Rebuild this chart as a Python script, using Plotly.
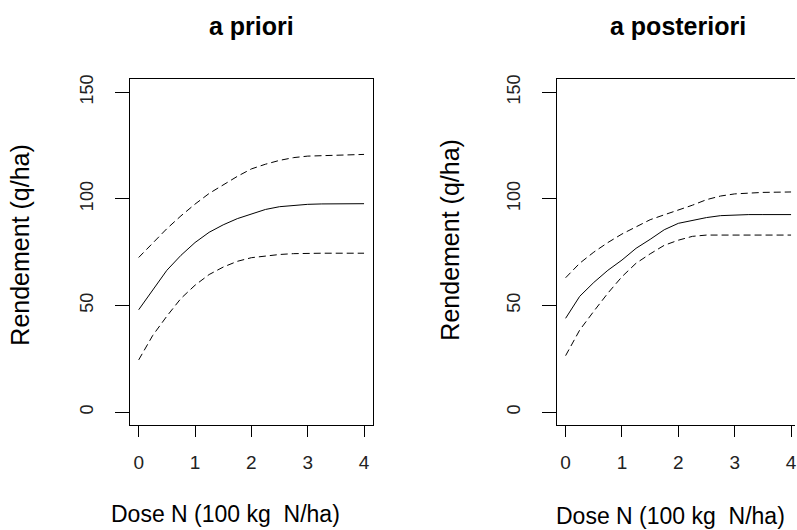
import plotly.graph_objects as go

# ---- data ----
dose = [0, 0.25, 0.5, 0.75, 1, 1.25, 1.5, 1.75, 2, 2.25, 2.5, 2.75, 3, 3.25, 3.5, 3.75, 4]

prior_mean = [48, 57.5, 66.5, 73.5, 79.5, 84.3, 87.8, 90.7, 93, 95, 96.3, 97, 97.4, 97.6, 97.7, 97.7, 97.7]
prior_upper = [72.5, 79.5, 86, 92, 97.5, 102.5, 106.7, 110.5, 114, 116.2, 118, 119.3, 120, 120.2, 120.3, 120.5, 120.8]
prior_lower = [24.5, 36, 45, 53.3, 59.5, 64.5, 68, 70.7, 72.4, 73.3, 73.9, 74.3, 74.5, 74.5, 74.5, 74.5, 74.5]

post_mean = [44, 54.3, 60.8, 66.5, 71.3, 76.8, 81, 85.5, 88.5, 90, 91.2, 92.1, 92.4, 92.6, 92.6, 92.6, 92.6]
post_upper = [63, 69.8, 75, 79.5, 83.5, 86.7, 90.2, 92.5, 94.7, 97, 99.6, 101.3, 102.3, 102.8, 103, 103.1, 103.2]
post_lower = [26.5, 38.5, 47.3, 55.8, 63.5, 69.8, 74.2, 78.2, 80.6, 82.4, 83, 83, 83, 83, 83, 83, 83]

x_ticks = [0, 1, 2, 3, 4]
y_ticks = [0, 50, 100, 150]
panel_titles = ["a priori", "a posteriori"]
x_title = "Dose N (100 kg  N/ha)"
y_title = "Rendement (q/ha)"

W, H = 797, 530
FONT = "Liberation Sans, Arial, Helvetica, sans-serif"
DASH = "7px,4px"

fig = go.Figure()

panels = [
    (prior_mean, prior_upper, prior_lower, "x", "y"),
    (post_mean, post_upper, post_lower, "x2", "y2"),
]
for mean, up, lo, xa, ya in panels:
    for vals, dash in ((up, DASH), (mean, "solid"), (lo, DASH)):
        fig.add_trace(go.Scatter(
            x=dose, y=vals, mode="lines", xaxis=xa, yaxis=ya,
            line=dict(color="black", width=1, dash=dash),
            showlegend=False, hoverinfo="skip"))

def px_x(p):
    return p / W

def px_y(p):
    return 1 - p / H

ydom = [px_y(424), px_y(75)]

common_x = dict(
    tickmode="array", tickvals=x_ticks, ticks="outside", ticklen=11,
    tickwidth=1, tickcolor="black", showline=True, linecolor="black",
    linewidth=1, mirror=True, showgrid=False, zeroline=False,
    tickfont=dict(family=FONT, size=19, color="#222"),
    ticklabelstandoff=9, ticklabeloverflow="allow",
)
common_y = dict(
    tickmode="array", tickvals=y_ticks, ticks="outside", ticklen=14,
    tickwidth=1, tickcolor="black", showline=True, linecolor="black",
    linewidth=1, showgrid=False, zeroline=False, range=[-6, 156],
    tickangle=-90,
    tickfont=dict(family=FONT, size=18, color="#222"),
    ticklabelstandoff=14, domain=ydom,
)

fig.update_layout(
    width=W, height=H,
    margin=dict(l=0, r=0, t=0, b=0),
    paper_bgcolor="white", plot_bgcolor="white",
    xaxis=dict(common_x, domain=[px_x(130), px_x(374)], range=[-0.16, 4.16], anchor="y"),
    yaxis=dict(common_y, anchor="x", mirror=True),
    xaxis2=dict(common_x, domain=[px_x(558), 1.0], range=[-0.16, 4.07], anchor="y2"),
    yaxis2=dict(common_y, anchor="x2", mirror=False),
)

ann = []
# panel titles
ann.append(dict(text="<b>%s</b>" % panel_titles[0], x=px_x(252), y=px_y(21)))
ann.append(dict(text="<b>%s</b>" % panel_titles[1], x=px_x(680), y=px_y(21)))
for a in ann:
    a["font"] = dict(family=FONT, size=25, color="black")
# axis titles
ann.append(dict(text=x_title, x=px_x(226), y=px_y(514),
                font=dict(family=FONT, size=23, color="black")))
ann.append(dict(text=x_title, x=px_x(672), y=px_y(516),
                font=dict(family=FONT, size=23, color="black")))
ann.append(dict(text=y_title, x=px_x(20), y=px_y(242), textangle=-90,
                font=dict(family=FONT, size=25, color="black")))
ann.append(dict(text=y_title, x=px_x(451), y=px_y(237), textangle=-90,
                font=dict(family=FONT, size=25, color="black")))
for a in ann:
    a.update(xref="paper", yref="paper", showarrow=False,
             xanchor="center", yanchor="middle")
fig.update_layout(annotations=ann)

fig.write_html("out.html", config={"displayModeBar": False},
               post_script="document.body.style.margin='0';document.body.style.padding='0';")
